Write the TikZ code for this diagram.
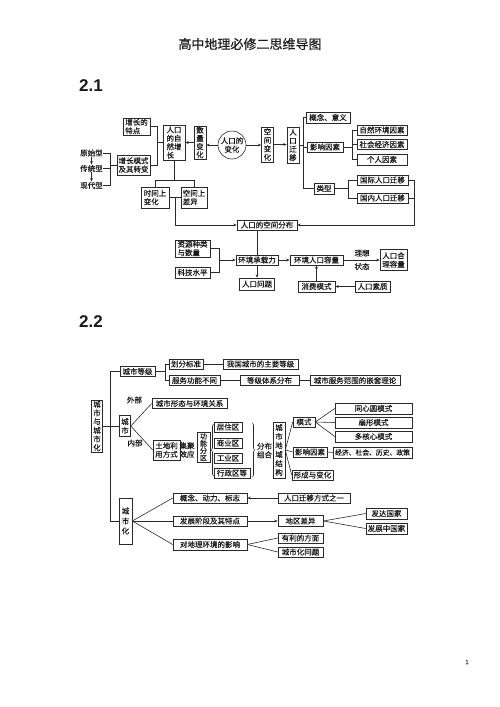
\documentclass[tikz,border=0pt]{standalone}
\usepackage{fontspec}
\setmainfont{Noto Sans CJK SC}[FakeBold=0.35]
\newfontfamily\hdfont{Liberation Sans}
\usetikzlibrary{arrows.meta,decorations.pathreplacing}
\definecolor{lc}{HTML}{2A2A2A}
\definecolor{tc}{HTML}{1A1A1A}
\newcommand\fsA{\fontsize{7.5}{8.5}\selectfont}
\begin{document}
\begin{tikzpicture}[x=1pt,y=-1pt,
  bx/.style={draw=lc, line width=0.6pt, inner sep=0.3pt, font=\fsA, align=center, text=tc},
  sz/.style 2 args={minimum width=#1pt, minimum height=#2pt},
  vt/.style={font=\fontsize{7.5}{#1}\selectfont},
  tx/.style={inner sep=0.3pt, font=\fsA, align=left, text=tc},
  ln/.style={draw=lc, line width=0.6pt},
  arr/.style={ln, -{Stealth[length=3.4pt,width=2.8pt]}},
  ]
\useasboundingbox (0,0) rectangle (500,707);
% title and headings
\node[font=\fontsize{13}{13}\selectfont, text=tc] (title) at (250,44) {高中地理必修二思维导图};
\node[font=\hdfont\fontsize{17}{17}\selectfont\bfseries, anchor=west, inner sep=0pt, text=tc] (h1) at (79,86) {2.1};
\node[font=\hdfont\fontsize{17}{17}\selectfont\bfseries, anchor=west, inner sep=0pt, text=tc] (h2) at (79,322) {2.2};
\node[font=\fontsize{6}{6}\selectfont, text=tc] (pg) at (467,662) {1};

% ================= 2.1 =================
\node[bx,sz={27}{17},align=left] (tz) at (136.5,126.5) {增长的\\特点};
\node[bx,sz={22}{35},align=left] (zrzz) at (174,142.5) {人口\\的自\\然增\\长};
\node[bx,sz={12}{33},vt=8.2] (slbh) at (200,142.5) {数\\量\\变\\化};
\node[bx,circle,minimum size=28pt,inner sep=0pt] (circ) at (232,145) {人口的\\变化};
\node[bx,sz={12}{35},vt=8.5] (kjbh) at (267.5,144.5) {空\\间\\变\\化};
\node[bx,sz={12}{36},vt=8.5] (rkqy) at (293,145) {人\\口\\迁\\移};

\draw[arr] (circ.west) -- (slbh.east |- circ.west);
\draw[arr] (slbh.west) -- (zrzz.east |- slbh.west);
\draw[arr] (circ.east) -- (kjbh.west |- circ.east);
\draw[arr] (kjbh.east) -- (rkqy.west |- kjbh.east);

\node[tx] (t1) at (91.5,153) {原始型};
\node[tx] (t2) at (91.5,168.5) {传统型};
\node[tx] (t3) at (91.5,185.5) {现代型};
\draw[arr] (t1.south) -- (t2.north);
\draw[arr] (t2.south) -- (t3.north);
\node[bx,sz={33}{20},align=left] (zmz) at (133.5,165) {增长模式\\及其转变};
\coordinate (b0) at (110.5,0);
\draw[ln] (t1.east) -- (t1.east -| b0) -- (t3.east -| b0) -- (t3.east);
\draw[ln] (t2.east) -- (t2.east -| b0);
\draw[ln] (zmz.west -| b0) -- (zmz.west);
\coordinate (b1) at (157,0);
\draw[ln] (tz.east) -- (tz.east -| b1) -- (zmz.east -| b1) -- (zmz.east);
\draw[ln] (zrzz.west -| b1) -- (zrzz.west);

\node[bx,sz={28}{21},align=left] (sjbh) at (155,197.5) {时间上\\变化};
\node[bx,sz={26}{21},align=left] (kjcy) at (194,197.5) {空间上\\差异};
\coordinate (b2) at (0,180);
\draw[ln] (zrzz.south) -- (zrzz.south |- b2);
\draw[ln] (sjbh.north) -- (sjbh.north |- b2) -- (kjcy.north |- b2) -- (kjcy.north);
\draw[ln] (sjbh.east) -- (kjcy.west);

\node[bx,sz={60}{10}] (kjfb) at (267,225) {人口的空间分布};
\coordinate (b3) at (175,197.5);
\draw[arr] (b3) -- (b3 |- kjfb.west) -- (kjfb.west);

\node[bx,sz={44}{11}] (gn) at (328,117.5) {概念、意义};
\node[bx,sz={36}{10}] (yx) at (325,147) {影响因素};
\node[bx,sz={20}{11}] (lx) at (324,188.5) {类型};
\coordinate (b4) at (303,0);
\draw[ln] (rkqy.east) -- (rkqy.east -| b4);
\draw[ln] (gn.west) -- (gn.west -| b4) -- (lx.west -| b4) -- (lx.west);
\draw[ln] (yx.west) -- (yx.west -| b4);

\node[bx,sz={50}{10}] (zr) at (382,130) {自然环境因素};
\node[bx,sz={50}{10}] (sh) at (382,144.5) {社会经济因素};
\node[bx,sz={50}{11}] (gr) at (382,159.5) {个人因素};
\coordinate (b5) at (352,0);
\draw[ln] (yx.east) -- (yx.east -| b5);
\draw[ln] (zr.west) -- (zr.west -| b5) -- (gr.west -| b5) -- (gr.west);
\draw[ln] (sh.west) -- (sh.west -| b5);

\node[bx,sz={51}{10}] (gj) at (382.5,180) {国际人口迁移};
\node[bx,sz={51}{10}] (gn2) at (382.5,198) {国内人口迁移};
\coordinate (b6) at (348,0);
\draw[ln] (lx.east) -- (lx.east -| b6);
\draw[ln] (gj.west) -- (gj.west -| b6) -- (gn2.west -| b6) -- (gn2.west);
\coordinate (b7) at (414,0);
\draw[ln] (gj.east) -- (gj.east -| b7);
\draw[ln] (gn2.east) -- (gn2.east -| b7);
\draw[arr] (gj.east -| b7) -- (kjfb.east -| b7) -- (kjfb.east);

\node[bx,sz={35}{17},align=left] (zy) at (192.5,248.5) {资源种类\\与数量};
\node[bx,sz={35}{11}] (kj) at (192.5,272.5) {科技水平};
\node[bx,sz={42}{10}] (hjcz) at (257,260) {环境承载力};
\coordinate (b8) at (219,0);
\draw[ln] (zy.east) -- (zy.east -| b8) -- (kj.east -| b8) -- (kj.east);
\draw[arr] (hjcz.west -| b8) -- (hjcz.west);
\draw[ln] (hjcz.north |- kjfb.south) -- (hjcz.north);
\node[bx,sz={35}{12}] (rkwt) at (257,284) {人口问题};
\draw[arr] (hjcz.south) -- (rkwt.north);
\node[bx,sz={53}{10}] (hjrk) at (316.5,260) {环境人口容量};
\draw[arr] (hjcz.east) -- (hjrk.west);
\node[bx,sz={27}{21}] (hl) at (393.5,260) {人口合\\理容量};
\draw[arr] (hjrk.east) -- (hl.west);
\node[tx] (lbl1) at (362,253) {理想};
\node[tx] (lbl2) at (362,266.5) {状态};
\node[bx,sz={37}{11}] (xf) at (316.5,286.5) {消费模式};
\node[bx,sz={35}{11}] (rksz) at (372.5,286.5) {人口素质};
\draw[arr] (xf.north) -- (hjrk.south);
\draw[arr] (rksz.west) -- (xf.east);

% ================= 2.2 =================
\node[bx,sz={11}{52},vt=8.7] (cs0) at (97,426) {城\\市\\与\\城\\市\\化};
\node[bx,sz={35}{10}] (csdj) at (137.5,371.5) {城市等级};
\node[bx,sz={13}{46},vt=10] (csh) at (125.5,521) {城\\市\\化};
\coordinate (m) at (110,0);
\draw[ln] (csdj.west) -- (csdj.west -| m) -- (csh.west -| m) -- (csh.west);

\node[bx,sz={34}{10}] (hf) at (186,364) {划分标准};
\node[bx,sz={51}{10}] (fw) at (194.5,380.5) {服务功能不同};
\coordinate (c1) at (165,0);
\draw[ln] (csdj.east) -- (csdj.east -| c1);
\draw[ln] (hf.west) -- (hf.west -| c1) -- (fw.west -| c1) -- (fw.west);
\node[bx,sz={75}{10}] (wg) at (260.5,364) {我国城市的主要等级};
\node[bx,sz={59}{10}] (djtx) at (269.5,380.5) {等级体系分布};
\node[bx,sz={90}{10}] (qt) at (355,380.5) {城市服务范围的嵌套理论};
\draw[ln] (hf.east) -- (wg.west);
\draw[ln] (fw.east) -- (djtx.west);
\draw[ln] (djtx.east) -- (qt.west);

\node[bx,sz={11}{21},vt=8.7] (cs) at (125,426) {城\\市};
\draw[ln] (cs0.east) -- (cs.west);
\node[tx] (wb) at (134.5,400) {外部};
\node[tx] (nb) at (135,443) {内部};
\node[bx,sz={75}{10}] (xt) at (189.5,403.5) {城市形态与环境关系};
\node[bx,sz={27}{20},align=left] (tdly) at (166.5,450) {土地利\\用方式};
\draw[ln] (cs.east) -- (xt.west);
\draw[ln] (cs.east) -- (tdly.west);
\node[tx] (jjxy) at (187,450) {集聚\\效应};
\node[bx,sz={13}{30},font=\fontsize{7}{7.2}\selectfont] (gnfq) at (203.5,447) {功\\能\\分\\区};
\draw[ln, decorate, decoration={brace, amplitude=2pt}] (213.5,476) -- (213.5,424);
\node[bx,sz={28}{10}] (jz) at (228,427) {居住区};
\node[bx,sz={28}{10}] (sy) at (228,443) {商业区};
\node[bx,sz={28}{10}] (gy) at (228,458) {工业区};
\node[bx,sz={36}{10}] (xz) at (232,473) {行政区等};
\draw[ln, decorate, decoration={brace, amplitude=2pt}] (252.5,423) -- (252.5,477);
\node[tx] (fbzh) at (264.5,450.5) {分布\\组合};
\node[bx,sz={12}{56},vt=9] (jg) at (279,450) {城\\市\\地\\域\\结\\构};

\node[bx,sz={22}{10}] (ms) at (304,422) {模式};
\node[bx,sz={34}{10}] (yx2) at (310,452) {影响因素};
\node[bx,sz={41}{10}] (xc) at (312.5,475) {形成与变化};
\draw[ln] (jg.east) -- (ms.west);
\draw[ln] (jg.east) -- (yx2.west);
\draw[ln] (jg.east) -- (xc.west);
\node[bx,sz={77}{11}] (txy) at (373.5,408.5) {同心圆模式};
\node[bx,sz={77}{11}] (sx) at (373.5,422.5) {扇形模式};
\node[bx,sz={77}{11}] (dhx) at (373.5,436.5) {多核心模式};
\draw[ln] (ms.east) -- (txy.west);
\draw[ln] (ms.east) -- (sx.west);
\draw[ln] (ms.east) -- (dhx.west);
\node[bx,sz={79}{11},font=\fontsize{6.8}{7}\selectfont] (jjsh) at (372.5,452.5) {经济、社会、历史、政策};
\draw[ln] (yx2.east) -- (jjsh.west);

\node[bx,sz={74}{10}] (gn3) at (210,498) {概念、动力、标志};
\node[bx,sz={74}{10}] (fz) at (210,521) {发展阶段及其特点};
\node[bx,sz={74}{11}] (yx3) at (210,544.5) {对地理环境的影响};
\draw[ln] (csh.east) -- (gn3.west);
\draw[ln] (csh.east) -- (fz.west);
\draw[ln] (csh.east) -- (yx3.west);
\node[bx,sz={72}{10}] (qy) at (314,498) {人口迁移方式之一};
\draw[arr] (qy.west) -- (gn3.east);
\node[bx,sz={45}{11}] (dq) at (300.5,521) {地区差异};
\draw[arr] (fz.east) -- (dq.west);
\node[bx,sz={41}{11}] (fd) at (386.5,513.5) {发达国家};
\node[bx,sz={41}{11}] (fzz) at (386.5,528.5) {发展中国家};
\draw[ln] (dq.east) -- (fd.west);
\draw[ln] (dq.east) -- (fzz.west);
\node[bx,sz={45}{10}] (yl) at (300.5,538) {有利的方面};
\node[bx,sz={45}{10}] (wt) at (300.5,552) {城市化问题};
\draw[ln] (yx3.east) -- (yl.west);
\draw[ln] (yx3.east) -- (wt.west);
\end{tikzpicture}
\end{document}
